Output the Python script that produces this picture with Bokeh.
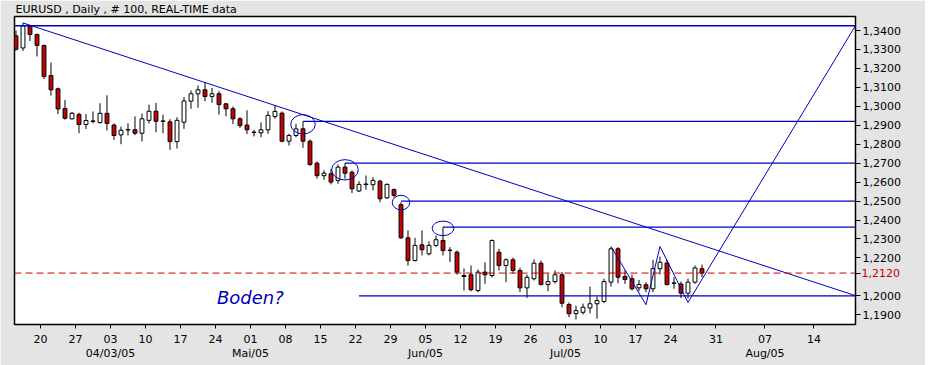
import numpy as np
import pandas as pd
from bokeh.plotting import figure
from bokeh.models import (Range1d, FixedTicker, CustomJSTickFormatter, Span, Label,
                          LinearAxis)
from bokeh.embed import file_html
from bokeh.resources import INLINE

# ---------------- data ----------------
first_day = "2005-03-15"
last_day = "2005-07-29"
dates = [d.strftime("%Y-%m-%d") for d in pd.bdate_range(first_day, last_day)]

opens = [
    1.3372, 1.3308, 1.3421, 1.3379, 1.3321, 1.3162, 1.3092, 1.2988, 1.2934, 1.2957,
    1.2904, 1.2923, 1.2914, 1.2963, 1.2901, 1.2849, 1.2875, 1.2876, 1.2858, 1.2926,
    1.2974, 1.2923, 1.2918, 1.2814, 1.2916, 1.3027, 1.3066, 1.3087, 1.3052, 1.3066,
    1.3013, 1.2987, 1.2934, 1.2901, 1.2864, 1.2860, 1.2876, 1.2946, 1.2964, 1.2816,
    1.2846, 1.2881, 1.2816, 1.2700, 1.2634, 1.2644, 1.2609, 1.2679, 1.2652, 1.2553,
    1.2587, 1.2586, 1.2605, 1.2517, 1.2560, 1.2481, 1.2306, 1.2186, 1.2269, 1.2222,
    1.2266, 1.2292, 1.2241, 1.2230, 1.2107, 1.2111, 1.2028, 1.2125, 1.2107, 1.2230,
    1.2160, 1.2190, 1.2134, 1.2042, 1.2090, 1.2172, 1.2060, 1.2075, 1.2111, 1.1954,
    1.1906, 1.1913, 1.1936, 1.1958, 1.1970, 1.2072, 1.2248, 1.2102, 1.2090, 1.2042,
    1.2058, 1.2037, 1.2143, 1.2173, 1.2068, 1.2062, 1.2014, 1.2072, 1.2143,
]
highs = [
    1.3400, 1.3440, 1.3426, 1.3384, 1.3326, 1.3231, 1.3099, 1.3034, 1.2970, 1.2966,
    1.2959, 1.2973, 1.3016, 1.3058, 1.2910, 1.2893, 1.2910, 1.2947, 1.2961, 1.3009,
    1.3018, 1.2956, 1.2932, 1.2942, 1.3049, 1.3083, 1.3110, 1.3127, 1.3097, 1.3080,
    1.3018, 1.2999, 1.2942, 1.2979, 1.2876, 1.2915, 1.2974, 1.3005, 1.2973, 1.2855,
    1.2908, 1.2920, 1.2825, 1.2709, 1.2662, 1.2670, 1.2693, 1.2700, 1.2662, 1.2605,
    1.2635, 1.2626, 1.2612, 1.2593, 1.2567, 1.2494, 1.2345, 1.2306, 1.2345, 1.2288,
    1.2318, 1.2362, 1.2257, 1.2239, 1.2144, 1.2160, 1.2139, 1.2177, 1.2297, 1.2248,
    1.2198, 1.2202, 1.2149, 1.2112, 1.2192, 1.2186, 1.2119, 1.2134, 1.2125, 1.1965,
    1.1948, 1.1959, 1.2049, 1.1996, 1.2090, 1.2257, 1.2257, 1.2134, 1.2112, 1.2084,
    1.2072, 1.2190, 1.2207, 1.2190, 1.2098, 1.2075, 1.2090, 1.2160, 1.2165,
]
lows = [
    1.3294, 1.3292, 1.3345, 1.3263, 1.3144, 1.3057, 1.2959, 1.2930, 1.2930, 1.2858,
    1.2880, 1.2910, 1.2909, 1.2872, 1.2823, 1.2800, 1.2846, 1.2848, 1.2814, 1.2910,
    1.2863, 1.2858, 1.2770, 1.2777, 1.2881, 1.2987, 1.2992, 1.3027, 1.3018, 1.2956,
    1.2947, 1.2906, 1.2886, 1.2853, 1.2841, 1.2837, 1.2855, 1.2934, 1.2810, 1.2793,
    1.2836, 1.2781, 1.2685, 1.2618, 1.2612, 1.2588, 1.2591, 1.2618, 1.2542, 1.2548,
    1.2560, 1.2556, 1.2494, 1.2512, 1.2519, 1.2301, 1.2160, 1.2181, 1.2213, 1.2213,
    1.2257, 1.2213, 1.2178, 1.2112, 1.2028, 1.2024, 1.2019, 1.2063, 1.2097, 1.2134,
    1.2072, 1.2118, 1.2019, 1.1989, 1.2081, 1.2054, 1.2024, 1.2065, 1.1940, 1.1887,
    1.1875, 1.1901, 1.1907, 1.1879, 1.1961, 1.2049, 1.2066, 1.2063, 1.2028, 1.2024,
    1.2019, 1.2019, 1.2112, 1.2054, 1.2037, 1.1988, 1.1986, 1.2063, 1.2098,
]
closes = [
    1.3301, 1.3425, 1.3379, 1.3321, 1.3157, 1.3087, 1.2986, 1.2937, 1.2963, 1.2904,
    1.2925, 1.2920, 1.2963, 1.2910, 1.2846, 1.2874, 1.2877, 1.2858, 1.2934, 1.2974,
    1.2921, 1.2920, 1.2814, 1.2926, 1.3028, 1.3066, 1.3087, 1.3052, 1.3066, 1.3009,
    1.2987, 1.2934, 1.2898, 1.2876, 1.2862, 1.2876, 1.2952, 1.2973, 1.2816, 1.2846,
    1.2881, 1.2816, 1.2693, 1.2634, 1.2647, 1.2600, 1.2679, 1.2647, 1.2565, 1.2588,
    1.2590, 1.2609, 1.2512, 1.2588, 1.2530, 1.2306, 1.2186, 1.2266, 1.2243, 1.2266,
    1.2296, 1.2239, 1.2239, 1.2125, 1.2102, 1.2032, 1.2125, 1.2111, 1.2292, 1.2160,
    1.2190, 1.2134, 1.2042, 1.2098, 1.2172, 1.2060, 1.2075, 1.2111, 1.1961, 1.1905,
    1.1922, 1.1940, 1.1958, 1.1975, 1.2075, 1.2248, 1.2098, 1.2086, 1.2037, 1.2060,
    1.2037, 1.2143, 1.2177, 1.2060, 1.2066, 1.2014, 1.2072, 1.2147, 1.2120,
]

# x-axis tick labels (weekly, Sundays) and month captions
week_ticks = ["2005-03-20", "2005-03-27", "2005-04-03", "2005-04-10", "2005-04-17",
              "2005-04-24", "2005-05-01", "2005-05-08", "2005-05-15", "2005-05-22",
              "2005-05-29", "2005-06-05", "2005-06-12", "2005-06-19", "2005-06-26",
              "2005-07-03", "2005-07-10", "2005-07-17", "2005-07-24", "2005-07-31",
              "2005-08-07", "2005-08-14"]
week_labels = ["20", "27", "03", "10", "17", "24", "01", "08", "15", "22", "29",
               "05", "12", "19", "26", "03", "10", "17", "24", "31", "07", "14"]
month_ticks = ["2005-04-03", "2005-05-01", "2005-06-05", "2005-07-03", "2005-08-07"]
month_labels = ["04/03/05", "Mai/05", "Jun/05", "Jul/05", "Aug/05"]

price_ticks = [1.19, 1.20, 1.22, 1.23, 1.24, 1.25, 1.26, 1.27, 1.28, 1.29,
               1.30, 1.31, 1.32, 1.33, 1.34]

title_text = "EURUSD , Daily , # 100, REAL-TIME data"

# drawn annotations
resist_levels = [1.3425]                      # full-width
level_dates = ["2005-05-11", "2005-05-19", "2005-05-31", "2005-06-08", "2005-05-23"]
level_values = [1.2920, 1.2700, 1.2500, 1.2362, 1.2000]
circle_dates = ["2005-05-11", "2005-05-19", "2005-05-31", "2005-06-08"]
circle_values = [1.2905, 1.2665, 1.2492, 1.2356]
trend_dates = ["2005-03-16", "2005-08-20"]
trend_values = [1.3440, 1.2000]
zig_dates = ["2005-07-12", "2005-07-19", "2005-07-21", "2005-07-27", "2005-08-20"]
zig_values = [1.2260, 1.1953, 1.2260, 1.1965, 1.3430]
note_text = "Boden?"
note_date = "2005-04-25"
note_value = 1.1989

# ---------------- x mapping (trading days, then calendar days) ----------------
origin = np.datetime64("2005-03-14")
last = np.datetime64(last_day)


def pos(d):
    d = np.datetime64(d)
    if d <= last:
        n = float(np.busday_count(origin, d))
        return n if bool(np.is_busday(d)) else n - 0.5
    return float(np.busday_count(origin, last)) + float((d - last).astype(int))


xs = [pos(d) for d in dates]
o = np.array(opens); h = np.array(highs); l = np.array(lows); c = np.array(closes)
up = c >= o
xa = np.array(xs)

# ---------------- styling ----------------
BLUE = "#0000c0"
RED = "#c80000"
GRAY = "#e4e4e4"
FONT = "DejaVu Sans"

X0, X1 = 0.786, 120.93
Y0, Y1 = 1.18486, 1.34739

p = figure(frame_width=841, frame_height=308,
           x_range=Range1d(X0, X1), y_range=Range1d(Y0, Y1),
           y_axis_location="right",
           output_backend="svg", toolbar_location=None,
           min_border_left=14, min_border_top=16, min_border_right=70,
           min_border_bottom=41,
           background_fill_color="white", border_fill_color=GRAY,
           outline_line_color="black", outline_line_width=1.5)
p.grid.grid_line_color = None

# title
p.title.text = title_text
p.title.align = "left"
p.title.offset = 1
p.title.standoff = 1
p.title.text_font = FONT
p.title.text_font_size = "11px"
p.title.text_font_style = "normal"
p.title.text_color = "black"


def js_lookup(positions, labels):
    return CustomJSTickFormatter(
        args=dict(pos=positions, lab=labels),
        code="""
for (let i = 0; i < pos.length; i++) {
  if (Math.abs(tick - pos[i]) < 1e-6) return lab[i];
}
return "";
""")


# x axis: week days
p.xaxis.ticker = FixedTicker(ticks=[pos(d) for d in week_ticks])
p.xaxis.formatter = js_lookup([pos(d) for d in week_ticks], week_labels)
p.xaxis.major_tick_out = 4
p.xaxis.major_tick_in = 0
p.xaxis.minor_tick_out = 0
p.xaxis.minor_tick_in = 0
p.xaxis.major_label_standoff = 6
p.xaxis.axis_line_color = "black"
p.xaxis.major_tick_line_color = "black"

# x axis: month captions (second row)
month_axis = LinearAxis(ticker=FixedTicker(ticks=[pos(d) for d in month_ticks]),
                        formatter=js_lookup([pos(d) for d in month_ticks], month_labels),
                        major_tick_out=0, major_tick_in=0, minor_tick_out=0,
                        minor_tick_in=0, axis_line_color=None,
                        major_tick_line_color=None, major_label_standoff=1)
p.add_layout(month_axis, "below")

# y axis
last_close = closes[-1]
p.yaxis.ticker = FixedTicker(ticks=sorted(price_ticks + [last_close]))
p.yaxis.formatter = CustomJSTickFormatter(
    args=dict(hide=last_close),
    code="""
if (Math.abs(tick - hide) < 1e-7) return "";
return tick.toFixed(4).replace(".", ",");
""")
p.yaxis.major_tick_out = 5
p.yaxis.major_tick_in = 0
p.yaxis.minor_tick_out = 0
p.yaxis.minor_tick_in = 0
p.yaxis.major_label_standoff = 2

# y axis: red label of the last close (pulled back over the main axis labels)
close_axis = LinearAxis(ticker=FixedTicker(ticks=[last_close]),
                        formatter=CustomJSTickFormatter(
                            code='return tick.toFixed(4).replace(".", ",");'),
                        major_tick_out=0, major_tick_in=0, minor_tick_out=0,
                        minor_tick_in=0, axis_line_color=None,
                        major_tick_line_color=None, major_label_standoff=-42,
                        major_label_text_color=RED)
p.add_layout(close_axis, "right")

for ax in (p.xaxis[0], month_axis, p.yaxis[0], close_axis):
    ax.major_label_text_font = FONT
    ax.major_label_text_font_size = "11px"
for ax in (p.xaxis[0], month_axis, p.yaxis[0]):
    ax.major_label_text_color = "black"

# ---------------- candles ----------------
p.segment(xa, h, xa, l, line_color="black", line_width=1)
p.vbar(x=xa[up], width=0.55, top=c[up], bottom=o[up],
       fill_color="white", line_color="black", line_width=1)
p.vbar(x=xa[~up], width=0.55, top=o[~up], bottom=c[~up],
       fill_color=RED, line_color="black", line_width=1)

# ---------------- drawings ----------------
for lv in resist_levels:
    p.add_layout(Span(location=lv, dimension="width", line_color=BLUE, line_width=1.3))
p.add_layout(Span(location=last_close, dimension="width", line_color=RED,
                  line_width=1, line_dash="7 4"))

xend = pos(trend_dates[-1])
p.segment([pos(d) for d in level_dates], level_values,
          [xend] * len(level_dates), level_values,
          line_color=BLUE, line_width=1.3)
p.ellipse([pos(d) for d in circle_dates], circle_values,
          width=[3.5, 3.8, 2.5, 3.1], height=[0.0102, 0.0107, 0.0077, 0.0077],
          fill_color=None, line_color=BLUE, line_width=1)
p.line([pos(d) for d in trend_dates], trend_values, line_color=BLUE, line_width=1)
p.line([pos(d) for d in zig_dates], zig_values, line_color=BLUE, line_width=1)

p.add_layout(Label(x=pos(note_date), y=note_value, x_offset=-2, text=note_text,
                   text_font=FONT, text_font_size="18px", text_font_style="italic",
                   text_color=BLUE, text_baseline="alphabetic"))

open("out.html", "w").write(file_html(p, INLINE))
